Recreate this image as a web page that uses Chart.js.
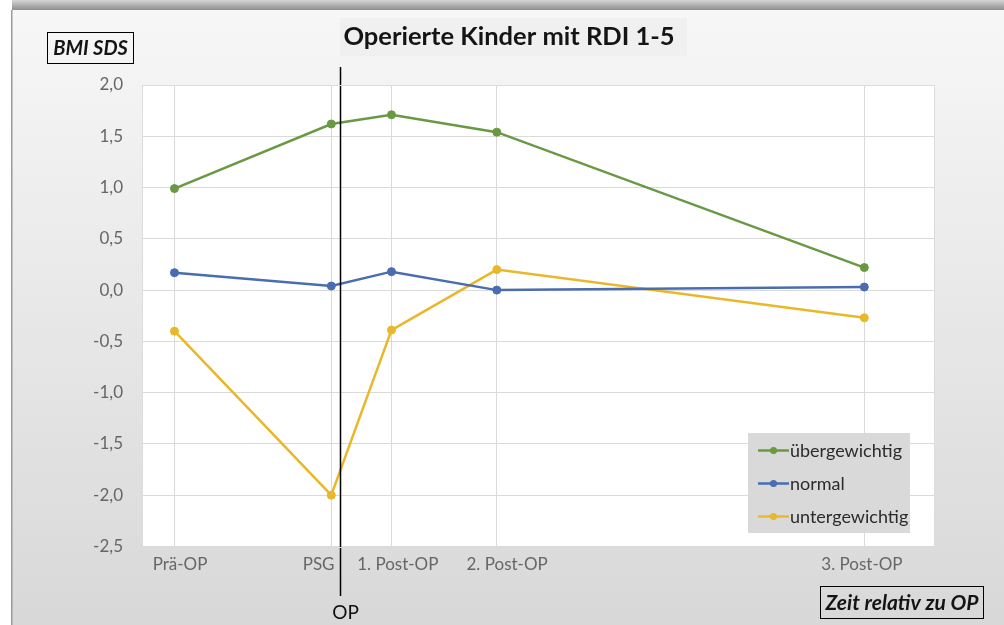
<!DOCTYPE html>
<html>
<head>
<meta charset="utf-8">
<script src="https://cdn.jsdelivr.net/npm/chart.js@4.4.1/dist/chart.umd.min.js"></script>
<style>
  html, body { margin: 0; padding: 0; background: #fff; }
  #wrap { width: 1004px; height: 625px; position: relative; }
</style>
</head>
<body>
<div id="wrap"><canvas id="c" width="1004" height="625"></canvas></div>
<script>
// Messzeitpunkte und ihre Lage auf der Zeitachse (relative Einheiten)
const zeitpunkte = ['Prä-OP', 'PSG', '1. Post-OP', '2. Post-OP', '3. Post-OP'];
const zeitwerte = [4.1, 23.9, 31.5, 44.8, 91.2];
// Lage der Beschriftungen unter der Achse (gleiche Einheiten)
const beschriftungsorte = [4.8, 22.3, 32.3, 46.1, 90.9];
const opZeit = 25.0;

// BMI-SDS je Gewichtsgruppe
const uebergewichtig = [0.99, 1.62, 1.71, 1.54, 0.22];
const normal = [0.17, 0.04, 0.18, 0.0, 0.03];
const untergewichtig = [-0.40, -2.0, -0.39, 0.20, -0.27];

const gruppen = ['übergewichtig', 'normal', 'untergewichtig'];
const farben = ['#6a9944', '#4a6cb0', '#e9b82a'];

const FONT = 'Lato, "Open Sans", sans-serif';

function punkte(werte) {
  return werte.map((y, i) => ({ x: zeitwerte[i], y }));
}

const hintergrund = {
  id: 'hintergrund',
  beforeDraw(chart) {
    const ctx = chart.ctx;
    const W = chart.width, H = chart.height;
    ctx.save();
    ctx.fillStyle = '#ffffff';
    ctx.fillRect(0, 0, W, H);
    // Schatten oben
    const gs = ctx.createLinearGradient(0, 0, 0, 10);
    gs.addColorStop(0, '#d4d4d4');
    gs.addColorStop(1, '#8e8e8e');
    ctx.fillStyle = gs;
    ctx.fillRect(12, 0, W - 12, 10);
    // Diagrammfläche mit Verlauf
    const g = ctx.createLinearGradient(0, 10, 0, H);
    g.addColorStop(0, '#f7f7f7');
    g.addColorStop(1, '#d8d8d8');
    ctx.fillStyle = g;
    ctx.fillRect(12, 10, W - 12, H - 10);
    ctx.fillStyle = '#9a9a9a';
    ctx.fillRect(11, 10, 1.5, H - 10);
    // Titelhintergrund
    ctx.fillStyle = '#f0f0f0';
    ctx.fillRect(340, 18, 347, 38);
    // Zeichenfläche
    const a = chart.chartArea;
    ctx.fillStyle = '#ffffff';
    ctx.fillRect(a.left, a.top, a.right - a.left, a.bottom - a.top);
    ctx.restore();
  }
};

const opLinie = {
  id: 'opLinie',
  afterDatasetsDraw(chart) {
    const ctx = chart.ctx;
    const x = Math.round(chart.scales.x.getPixelForValue(opZeit)) + 0.5;
    ctx.save();
    ctx.strokeStyle = '#000000';
    ctx.lineWidth = 1.5;
    ctx.beginPath();
    ctx.moveTo(x, 67);
    ctx.lineTo(x, 596);
    ctx.stroke();
    ctx.fillStyle = '#111111';
    ctx.font = '19px ' + FONT;
    ctx.textAlign = 'center';
    ctx.textBaseline = 'middle';
    ctx.fillText('OP', x + 5, 613);
    ctx.restore();
  }
};

const beschriftung = {
  id: 'beschriftung',
  afterDraw(chart) {
    const ctx = chart.ctx;
    ctx.save();
    // Titel
    ctx.fillStyle = '#141414';
    ctx.font = 'bold 25.5px ' + FONT;
    ctx.textAlign = 'center';
    ctx.textBaseline = 'middle';
    ctx.fillText('Operierte Kinder mit RDI 1-5', 509, 37);

    // Achsentitel in Rahmen
    ctx.strokeStyle = '#000000';
    ctx.lineWidth = 1;
    ctx.strokeRect(47.5, 32.5, 86, 31);
    ctx.font = 'italic bold 20px ' + FONT;
    ctx.fillText('BMI SDS', 90.5, 48.5);
    ctx.strokeRect(820.5, 586.5, 163, 32);
    ctx.font = 'italic bold 21px ' + FONT;
    ctx.fillText('Zeit relativ zu OP', 902, 603);

    // Legende
    ctx.fillStyle = '#d9d9d9';
    ctx.fillRect(748, 433, 162, 100);
    const ys = [450.5, 483.5, 516.5];
    chart.data.datasets.forEach((ds, i) => {
      const y = ys[i];
      ctx.strokeStyle = ds.borderColor;
      ctx.lineWidth = 2.5;
      ctx.beginPath();
      ctx.moveTo(758, y);
      ctx.lineTo(789, y);
      ctx.stroke();
      ctx.fillStyle = ds.borderColor;
      ctx.beginPath();
      ctx.arc(773.5, y, 3.5, 0, Math.PI * 2);
      ctx.fill();
      ctx.fillStyle = '#2b2b2b';
      ctx.font = '18px ' + FONT;
      ctx.textAlign = 'left';
      ctx.fillText(ds.label, 790, y + 1);
    });

    // Rahmenlinie der Zeichenfläche
    const a = chart.chartArea;
    ctx.strokeStyle = '#dcdcdc';
    ctx.lineWidth = 1;
    ctx.strokeRect(Math.round(a.left) + 0.5, Math.round(a.top) + 0.5,
                   Math.round(a.right - a.left), Math.round(a.bottom - a.top));
    ctx.restore();
  }
};

const reihen = [uebergewichtig, normal, untergewichtig];

new Chart(document.getElementById('c'), {
  type: 'line',
  data: {
    datasets: reihen.map((werte, i) => ({
      label: gruppen[i],
      data: punkte(werte),
      borderColor: farben[i],
      backgroundColor: farben[i],
      borderWidth: 2.5,
      pointRadius: 4,
      pointBorderWidth: 1,
      pointBackgroundColor: farben[i],
      pointBorderColor: farben[i],
      tension: 0,
      fill: false
    }))
  },
  options: {
    responsive: false,
    animation: false,
    devicePixelRatio: 1,
    layout: { padding: { left: 12, right: 70, top: 85, bottom: 38.5 } },
    plugins: {
      legend: { display: false },
      title: { display: false },
      tooltip: { enabled: false }
    },
    scales: {
      // Zeitachse: senkrechte Gitterlinien an den Messzeitpunkten
      x: {
        type: 'linear',
        position: 'bottom',
        min: 0,
        max: 100,
        afterBuildTicks(s) { s.ticks = zeitwerte.map(v => ({ value: v })); },
        afterFit(s) { s.height = 0; },
        grid: { color: '#dadada', lineWidth: 1, drawTicks: false },
        border: { display: false },
        ticks: { display: false }
      },
      // Beschriftung der Messzeitpunkte
      xLabels: {
        type: 'linear',
        position: 'bottom',
        min: 0,
        max: 100,
        afterBuildTicks(s) { s.ticks = beschriftungsorte.map(v => ({ value: v })); },
        afterFit(s) { s.height = 40; },
        grid: { display: false, drawTicks: false },
        border: { display: false },
        ticks: {
          autoSkip: false,
          maxRotation: 0,
          padding: 8,
          color: '#666666',
          font: { family: FONT, size: 17 },
          callback: (v, i) => zeitpunkte[i]
        }
      },
      y: {
        min: -2.5,
        max: 2.0,
        afterFit(s) { s.width = 130; },
        grid: { color: '#dadada', lineWidth: 1, drawTicks: false },
        border: { display: false },
        ticks: {
          stepSize: 0.5,
          padding: 19,
          color: '#666666',
          font: { family: FONT, size: 17 },
          callback: v => v.toFixed(1).replace('.', ',')
        }
      }
    }
  },
  plugins: [hintergrund, opLinie, beschriftung]
});
</script>
</body>
</html>
